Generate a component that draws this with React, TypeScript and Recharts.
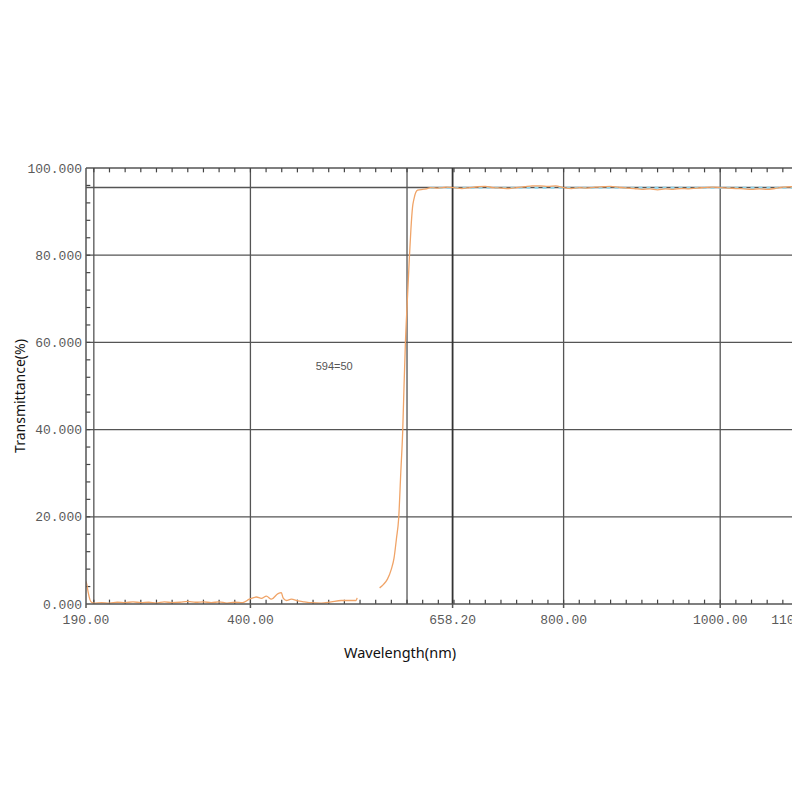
import React from 'react';
import { LineChart, Line, XAxis, YAxis, ReferenceLine, ReferenceDot } from 'recharts';

// measured curve, low band (blocking region)
const lowWavelengths = [190, 191, 193, 195, 197, 200, 210, 220, 230, 240, 250, 260, 270, 280, 290, 300, 310, 320, 330, 340, 350, 360, 370, 380, 390, 398.7, 407.6, 414, 420.4, 426.8, 435.3, 439.5, 441.7, 445.9, 452.2, 460.8, 468.8, 477.7, 490.4, 503.2, 515.9, 535, 536.3];
const lowTransmittance = [5.2, 4.5, 2.5, 1.0, 0.4, 0.2, 0.3, 0.2, 0.4, 0.3, 0.5, 0.3, 0.4, 0.2, 0.5, 0.3, 0.4, 0.6, 0.4, 0.5, 0.3, 0.5, 0.2, 0.4, 0.3, 1.1, 1.6, 1.3, 1.8, 1.1, 2.4, 2.6, 1.4, 0.8, 1.1, 0.7, 0.5, 0.3, 0.2, 0.5, 0.8, 0.8, 1.4];

// edge + pass band
const highWavelengths = [565, 570, 575, 580, 583.4, 586.5, 589.4, 592, 594.5, 596.2, 597.9, 600.5, 603, 605, 607, 609, 611, 613.5, 620, 624, 630, 640, 650, 660, 670, 680, 690, 700, 710, 720, 730, 740, 750, 760, 770, 780, 790, 800, 810, 820, 830, 840, 850, 860, 870, 880, 890, 900, 910, 920, 930, 940, 950, 960, 970, 980, 990, 1000, 1010, 1020, 1030, 1040, 1050, 1060, 1070, 1080, 1090, 1100];
const highTransmittance = [3.7, 4.5, 5.7, 8.0, 10.5, 15.0, 19.8, 30.0, 39.7, 50.0, 59.6, 70.0, 79.4, 86.0, 90.9, 93.0, 94.3, 94.9, 95.1, 95.2, 95.5, 95.4, 95.6, 95.5, 95.3, 95.5, 95.7, 95.8, 95.5, 95.4, 95.3, 95.5, 95.7, 95.9, 95.9, 95.8, 95.9, 95.5, 95.3, 95.5, 95.4, 95.6, 95.7, 95.8, 95.6, 95.4, 95.3, 95.1, 95.2, 95.0, 95.2, 95.1, 95.3, 95.2, 95.4, 95.5, 95.6, 95.5, 95.4, 95.3, 95.2, 95.1, 95.2, 95.1, 95.3, 95.6, 95.7, 95.6];

// second (reference) trace, light blue dashed
const refWavelengths = [630, 1100];
const refTransmittance = [95.45, 95.45];

const xLabelTicks = [190, 400, 658.2, 800, 1000, 1100];
const xGridLines = [200, 400, 600, 800, 1000];
const cursorWavelength = 658.2;
const yLabelTicks = [0, 20, 40, 60, 80, 100];
const yGridLines = [20, 40, 60, 80];
const plateauLevel = 95.5;
const xMinorTicks = Array.from({ length: 46 }, (_, i) => 200 + i * 20);
const yMinorTicks = Array.from({ length: 24 }, (_, i) => 4 + i * 4);
const annotation = { x: 507, y: 54.6, text: '594=50' };

const curveData = [
  ...lowWavelengths.map((w, i) => ({ w, t: lowTransmittance[i] as number | null })),
  { w: 550, t: null },
  ...highWavelengths.map((w, i) => ({ w, t: highTransmittance[i] as number | null })),
];
const refData = refWavelengths.map((w, i) => ({ w, t: refTransmittance[i] }));

const tickFont = { fontFamily: '"Liberation Mono", monospace', fontSize: 13, fill: '#5a5a5a' };
const gridColor = '#555';
const minorColor = '#444';

export default function App() {
  return (
    <div style={{ position: 'relative', width: 792, height: 784, background: '#fff', overflow: 'hidden' }}>
      <style>{'body{overflow:hidden}'}</style>
      <LineChart width={792} height={784} margin={{ top: 160, right: 1.5, bottom: 158, left: 8 }}>
        <XAxis
          dataKey="w"
          type="number"
          domain={[190, 1100]}
          allowDataOverflow
          ticks={xLabelTicks}
          interval={0}
          tickFormatter={(v: number) => v.toFixed(2)}
          tick={tickFont}
          tickSize={4}
          tickMargin={7}
          stroke={gridColor}
          strokeWidth={1.5}
          height={30}
        />
        <YAxis
          type="number"
          domain={[0, 100]}
          allowDataOverflow
          ticks={yLabelTicks}
          interval={0}
          tickFormatter={(v: number) => v.toFixed(3)}
          tick={tickFont}
          tickLine={false}
          tickSize={2}
          tickMargin={2}
          stroke={gridColor}
          strokeWidth={1.5}
          width={70}
        />

        {xGridLines.map((x) => (
          <ReferenceLine key={`vx-${x}`} x={x} stroke={gridColor} strokeWidth={1.3} />
        ))}
        {yGridLines.map((y) => (
          <ReferenceLine key={`hy-${y}`} y={y} stroke={gridColor} strokeWidth={1.2} />
        ))}
        <ReferenceLine y={100} stroke={gridColor} strokeWidth={1.5} />
        <ReferenceLine y={plateauLevel} stroke="#555" strokeWidth={1.5} />
        <ReferenceLine x={cursorWavelength} stroke="#333" strokeWidth={1.8} />

        {/* minor ticks drawn inside the frame */}
        {xMinorTicks.map((x) => (
          <ReferenceLine key={`mb-${x}`} segment={[{ x, y: 0 }, { x, y: 1 }]} stroke={minorColor} strokeWidth={1.2} />
        ))}
        {xMinorTicks.map((x) => (
          <ReferenceLine key={`mt-${x}`} segment={[{ x, y: 100 }, { x, y: 99 }]} stroke={minorColor} strokeWidth={1.2} />
        ))}
        {yMinorTicks.map((y) => (
          <ReferenceLine key={`ml-${y}`} segment={[{ x: 190, y }, { x: 195.5, y }]} stroke={minorColor} strokeWidth={1.2} />
        ))}

        <Line data={refData} dataKey="t" type="linear" stroke="#8fd6ee" strokeWidth={2}
          strokeDasharray="4 4" dot={false} isAnimationActive={false} />
        <Line data={curveData} dataKey="t" type="monotone" stroke="#f0a468" strokeWidth={1.3}
          dot={false} connectNulls={false} isAnimationActive={false} />

        <ReferenceDot x={annotation.x} y={annotation.y} r={0} fill="none" stroke="none"
          label={{ value: annotation.text, position: 'center', fill: '#555', fontSize: 11, fontFamily: '"Liberation Sans", sans-serif' }} />
      </LineChart>
      <div style={{
        position: 'absolute', left: 11, top: 388, transform: 'translate(-50%, -50%) rotate(-90deg)',
        fontFamily: '"Noto Sans", sans-serif', fontSize: 14, color: '#111', whiteSpace: 'nowrap',
      }}>Transmittance(%)</div>
      <div style={{
        position: 'absolute', left: 392, top: 644, transform: 'translate(-50%, -50%)',
        fontFamily: '"Noto Sans", sans-serif', fontSize: 14.5, color: '#111', whiteSpace: 'nowrap',
      }}>Wavelength(nm)</div>
    </div>
  );
}
